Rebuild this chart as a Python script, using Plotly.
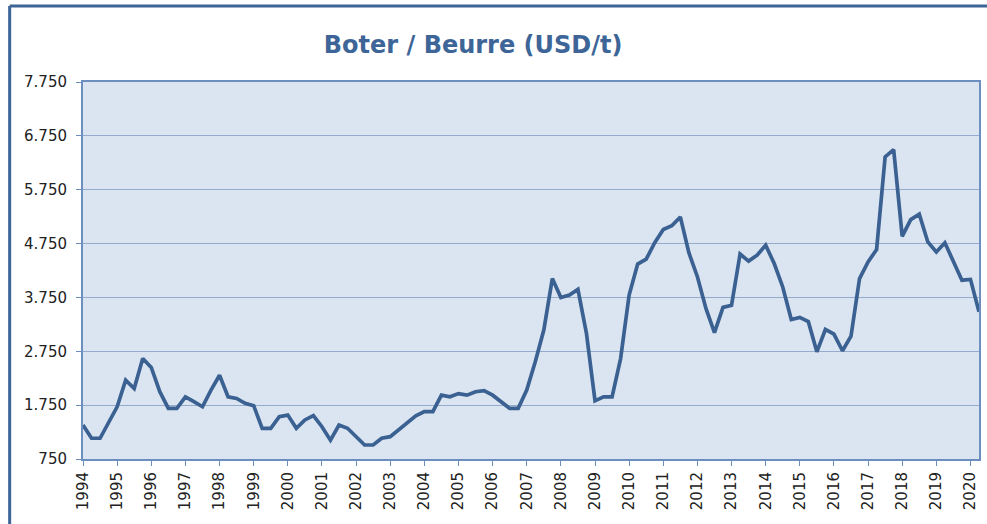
import plotly.graph_objects as go

# quarterly butter price, USD per tonne (Q1 1994 .. Q2 2020)
start_year = 1994
prices = [
    1380, 1135, 1135, 1445, 1720, 2215, 2060, 2615,   # 1994-1995
    2450, 2000, 1690, 1690, 1905, 1815, 1720, 2030,   # 1996-1997
    2305, 1905, 1875, 1785, 1740, 1320, 1320, 1535,   # 1998-1999
    1565, 1320, 1475, 1555, 1350, 1100, 1380, 1320,   # 2000-2001
    1165, 1010, 1010, 1135, 1165, 1290, 1410, 1550,   # 2002-2003
    1630, 1630, 1935, 1905, 1965, 1935, 2000, 2020,   # 2004-2005
    1935, 1815, 1690, 1690, 2030, 2555, 3145, 4100,   # 2006-2007
    3750, 3795, 3900, 3080, 1830, 1905, 1905, 2615,   # 2008-2009
    3795, 4370, 4460, 4765, 5010, 5080, 5245, 4580,   # 2010-2011
    4135, 3545, 3095, 3565, 3605, 4555, 4425, 4535,   # 2012-2013
    4720, 4380, 3945, 3340, 3380, 3300, 2740, 3155,   # 2014-2015
    3070, 2760, 3030, 4100, 4410, 4640, 6360, 6495,   # 2016-2017
    4885, 5195, 5295, 4780, 4595, 4765, 4410, 4070,   # 2018-2019
    4085, 3485,                                       # 2020
]
quarters = [start_year + i / 4 for i in range(len(prices))]
years = list(range(1994, 2021))
year_labels = [str(y) for y in years]

W, H = 987, 524
M = dict(l=83, r=6, t=82, b=65)

fig = go.Figure()
fig.add_trace(go.Scatter(
    x=quarters, y=prices, mode="lines",
    line=dict(color="#3a6191", width=3.7),
    hoverinfo="x+y", showlegend=False,
))

# frame of the whole chart (top and left edge), given in paper units
pw = W - M["l"] - M["r"]
ph = H - M["t"] - M["b"]


def px_x(v):
    return (v - M["l"]) / pw


def px_y(v):
    return (H - M["b"] - v) / ph


fig.add_shape(type="line", xref="paper", yref="paper",
              x0=px_x(9.5), x1=px_x(W + 5), y0=px_y(6), y1=px_y(6),
              line=dict(color="#3d6597", width=3))
fig.add_shape(type="line", xref="paper", yref="paper",
              x0=px_x(9.5), x1=px_x(9.5), y0=px_y(6), y1=px_y(H + 5),
              line=dict(color="#3d6597", width=3))

fig.update_layout(
    width=W, height=H,
    margin=M,
    paper_bgcolor="white",
    plot_bgcolor="#dbe5f1",
    separators=",.",
    font=dict(family="DejaVu Sans", size=15, color="#222222"),
    title=dict(
        text="<b>Boter / Beurre (USD/t)</b>",
        x=px_x(474), xref="paper", xanchor="center",
        y=1 - 45 / H, yanchor="middle",
        font=dict(family="DejaVu Sans", size=24, color="#3d6597"),
    ),
    showlegend=False,
)
fig.update_xaxes(
    range=[quarters[0], quarters[-1]],
    tickvals=years, ticktext=year_labels,
    tickangle=-90,
    ticks="outside", ticklen=5, tickcolor="#6d8fbf",
    tickfont=dict(size=15, color="#222222"),
    showgrid=False, zeroline=False,
    showline=True, linecolor="#6d8fbf", linewidth=2, mirror=True,
)
fig.update_yaxes(
    range=[750, 7750], tick0=750, dtick=1000,
    tickformat=",d",
    ticks="outside", ticklen=5, tickcolor="#6d8fbf",
    tickfont=dict(size=15, color="#222222"),
    ticklabelstandoff=6,
    showgrid=True, gridcolor="#94abcb", gridwidth=1.3,
    zeroline=False,
    showline=True, linecolor="#6d8fbf", linewidth=2, mirror=True,
)

fig.write_html("out.html", config={"displayModeBar": False},
               post_script="document.body.style.margin='0';")
